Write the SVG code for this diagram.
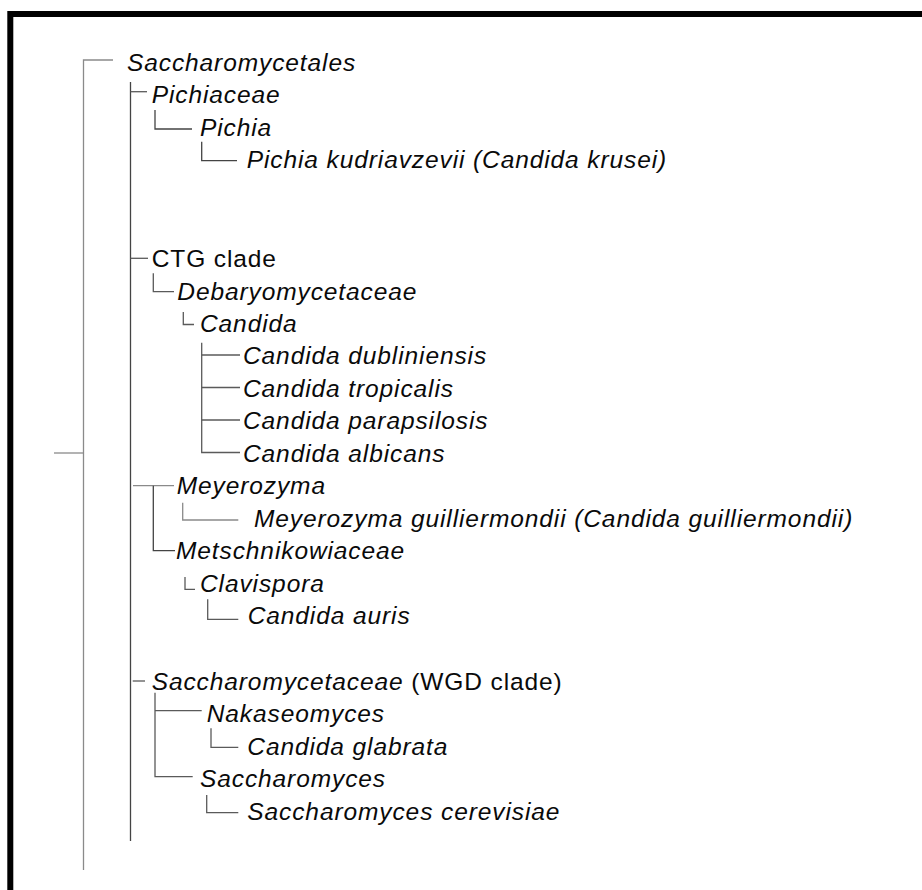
<svg xmlns="http://www.w3.org/2000/svg" width="922" height="890" viewBox="0 0 922 890">
<style>
text{font-family:"Liberation Sans",Arial,sans-serif;font-size:24.5px;letter-spacing:0.9px;fill:#0a0a0a;font-style:italic}
.up{font-style:normal}
.c{fill:none;stroke:#5a5a5a;stroke-width:1.3}
.g{stroke:#8a8a8a}
.d{stroke:#444}
</style>
<rect x="0" y="0" width="922" height="890" fill="#fff"/>
<path d="M10.3,890 V14 H922" fill="none" stroke="#000" stroke-width="6"/>
<g id="connectors">
<path class="c g" d="M83.5,870 V60 H113"/>
<path class="c g" d="M54,453 H83.5"/>
<path class="c d" d="M130.5,82 V841"/>
<path class="c" d="M130.5,91.7 H147"/>
<path class="c d" d="M155,110 V129 H192"/>
<path class="c d" d="M201.7,141.7 V160.7 H237"/>
<path class="c" d="M130.5,258.3 H148"/>
<path class="c" d="M153.3,273.3 V291.7 H174"/>
<path class="c" d="M183.3,312 V324.5 H194"/>
<path class="c" d="M201.7,342.7 V452.5 H240"/>
<path class="c" d="M201.7,355 H240"/>
<path class="c" d="M201.7,387.5 H240"/>
<path class="c" d="M201.7,420 H240"/>
<path class="c g" d="M133,485.7 H174"/>
<path class="c d" d="M153.3,485.7 V550.7 H175"/>
<path class="c g" d="M182.7,502.7 V520 H238.3"/>
<path class="c" d="M185,577 V589.3 H195"/>
<path class="c" d="M207.7,599.3 V619.3 H238.3"/>
<path class="c" d="M132.7,681 H145"/>
<path class="c" d="M155,692.7 V776.7 H192.7"/>
<path class="c" d="M155,710.7 H201.7"/>
<path class="c" d="M211,728.3 V747.3 H238.3"/>
<path class="c" d="M206.7,795 V812.7 H238.3"/>
</g>
<g id="saccharomycetales"><text x="127" y="70.5">Saccharomycetales</text></g>
<g id="pichiaceae"><text x="151.7" y="103.3">Pichiaceae</text></g>
<g id="pichia"><text x="200" y="135.5">Pichia</text></g>
<g id="pichia-kudriavzevii"><text x="246.7" y="168">Pichia kudriavzevii (Candida krusei)</text></g>
<g id="ctg-clade"><text class="up" x="151.7" y="266.7">CTG clade</text></g>
<g id="debaryomycetaceae"><text x="177.3" y="299.5">Debaryomycetaceae</text></g>
<g id="candida"><text x="200" y="331.7">Candida</text></g>
<g id="candida-dubliniensis"><text x="243" y="364">Candida dubliniensis</text></g>
<g id="candida-tropicalis"><text x="243" y="396.5">Candida tropicalis</text></g>
<g id="candida-parapsilosis"><text x="243" y="429">Candida parapsilosis</text></g>
<g id="candida-albicans"><text x="243" y="461.5">Candida albicans</text></g>
<g id="meyerozyma"><text x="176.7" y="494">Meyerozyma</text></g>
<g id="meyerozyma-guilliermondii"><text x="254" y="526.7">Meyerozyma guilliermondii (Candida guilliermondii)</text></g>
<g id="metschnikowiaceae"><text x="176" y="559.3">Metschnikowiaceae</text></g>
<g id="clavispora"><text x="200" y="591.7">Clavispora</text></g>
<g id="candida-auris"><text x="247.7" y="624">Candida auris</text></g>
<g id="saccharomycetaceae"><text x="151.7" y="689.5">Saccharomycetaceae<tspan class="up"> (WGD clade)</tspan></text></g>
<g id="nakaseomyces"><text x="206.7" y="721.7">Nakaseomyces</text></g>
<g id="candida-glabrata"><text x="247.3" y="754.5">Candida glabrata</text></g>
<g id="saccharomyces"><text x="200" y="786.7">Saccharomyces</text></g>
<g id="saccharomyces-cerevisiae"><text x="247.3" y="819.5">Saccharomyces cerevisiae</text></g>
</svg>
